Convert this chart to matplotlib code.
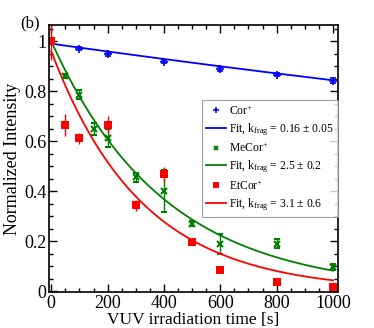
import numpy as np
import matplotlib
matplotlib.use("Agg")
import matplotlib.pyplot as plt
from matplotlib.lines import Line2D
from matplotlib.ticker import MultipleLocator

plt.rcParams['font.family'] = ['Liberation Serif', 'DejaVu Serif']
plt.rcParams['mathtext.fontset'] = 'custom'
plt.rcParams['mathtext.rm'] = 'Liberation Serif'
plt.rcParams['mathtext.it'] = 'Liberation Serif:italic'

# Cor+
t_cor = [0, 100, 200, 400, 600, 800, 1000]
i_cor = [1.0, 0.970, 0.948, 0.918, 0.888, 0.866, 0.842]
e_cor = [0.005, 0.006, 0.006, 0.006, 0.008, 0.006, 0.010]

# MeCor+
t_me = [0, 50, 100, 150, 200, 300, 400, 500, 600, 800, 1000]
i_me = [1.0, 0.86, 0.785, 0.648, 0.612, 0.455, 0.40, 0.27, 0.19, 0.19, 0.097]
e_me = [0.01, 0.008, 0.018, 0.025, 0.035, 0.018, 0.085, 0.01, 0.04, 0.017, 0.012]

# EtCor+
t_et = [0, 50, 100, 200, 300, 400, 500, 600, 800, 1000]
i_et = [1.0, 0.665, 0.612, 0.665, 0.343, 0.467, 0.198, 0.085, 0.038, 0.015]
e_et = [0.075, 0.045, 0.022, 0.035, 0.022, 0.03, 0.01, 0.0, 0.0, 0.0]

# exponential fits: A * exp(-k * t / 1000)
fit_cor = (0.99, 0.16)
fit_me = (1.0, 2.5)
fit_et = (0.96, 3.1)

labels = ["Cor$^{+}$", "Fit, k$_{\\mathrm{frag}}$ = 0.16 \u00b1 0.05",
          "MeCor$^{+}$", "Fit, k$_{\\mathrm{frag}}$ = 2.5 \u00b1 0.2",
          "EtCor$^{+}$", "Fit, k$_{\\mathrm{frag}}$ = 3.1 \u00b1 0.6"]

blue, green, red = "#0000ff", "#007f00", "#ff0000"

fig = plt.figure(figsize=(3.74, 3.28), dpi=100)
ax = fig.add_axes([0.131, 0.110, 0.773, 0.814])

tt = np.linspace(0, 1000, 300)
ax.errorbar(t_cor, i_cor, yerr=e_cor, fmt='+', color=blue, ms=6, mew=1.2,
            capsize=2.5, elinewidth=1)
ax.plot(tt, fit_cor[0] * np.exp(-fit_cor[1] * tt / 1000), color=blue, lw=1.3)
ax.errorbar(t_me, i_me, yerr=e_me, fmt='x', color=green, ms=4, mew=1.5,
            capsize=2.5, elinewidth=1)
ax.plot(tt, fit_me[0] * np.exp(-fit_me[1] * tt / 1000), color=green, lw=1.3)
ax.errorbar(t_et, i_et, yerr=e_et, fmt='s', color=red, ms=5.5, mew=0,
            capsize=2.5, elinewidth=1)
ax.plot(tt, fit_et[0] * np.exp(-fit_et[1] * tt / 1000), color=red, lw=1.3)

h = [Line2D([], [], ls='none', marker='+', color=blue, ms=5, mew=1.2),
     Line2D([], [], color=blue, lw=1.3),
     Line2D([], [], ls='none', marker='x', color=green, ms=3.5, mew=1.4),
     Line2D([], [], color=green, lw=1.3),
     Line2D([], [], ls='none', marker='s', color=red, ms=5, mew=0),
     Line2D([], [], color=red, lw=1.3)]

ax.set_xlim(-8, 1018)
ax.set_ylim(-0.003, 1.065)
ax.xaxis.set_major_locator(MultipleLocator(200))
ax.xaxis.set_minor_locator(MultipleLocator(50))
ax.yaxis.set_minor_locator(MultipleLocator(0.05))
ax.set_yticks([0, 0.2, 0.4, 0.6, 0.8, 1.0])
ax.set_yticklabels(["0", "0.2", "0.4", "0.6", "0.8", "1"])
ax.tick_params(which='both', direction='in', top=True, right=True, labelsize=13, width=1)
ax.tick_params(which='major', length=6, pad=2)
ax.tick_params(which='minor', length=3)
for s in ax.spines.values():
    s.set_linewidth(1.2)

ax.set_xlabel("VUV irradiation time [s]", fontsize=12.5, labelpad=0.5)
ax.set_ylabel("Normalized Intensity", fontsize=13, labelpad=2)
fig.text(0.08, 0.93, "(b)", fontsize=12, ha='center', va='center')

leg = ax.legend(h, labels, loc='upper right', bbox_to_anchor=(1.0, 0.72), fontsize=8.4,
                frameon=True, fancybox=False, edgecolor='#888888', handlelength=1.7,
                handletextpad=0.25, borderpad=0.35, labelspacing=0.3, borderaxespad=0,
                numpoints=1)
leg.get_frame().set_linewidth(0.8)

fig.savefig("out.png", dpi=100)
